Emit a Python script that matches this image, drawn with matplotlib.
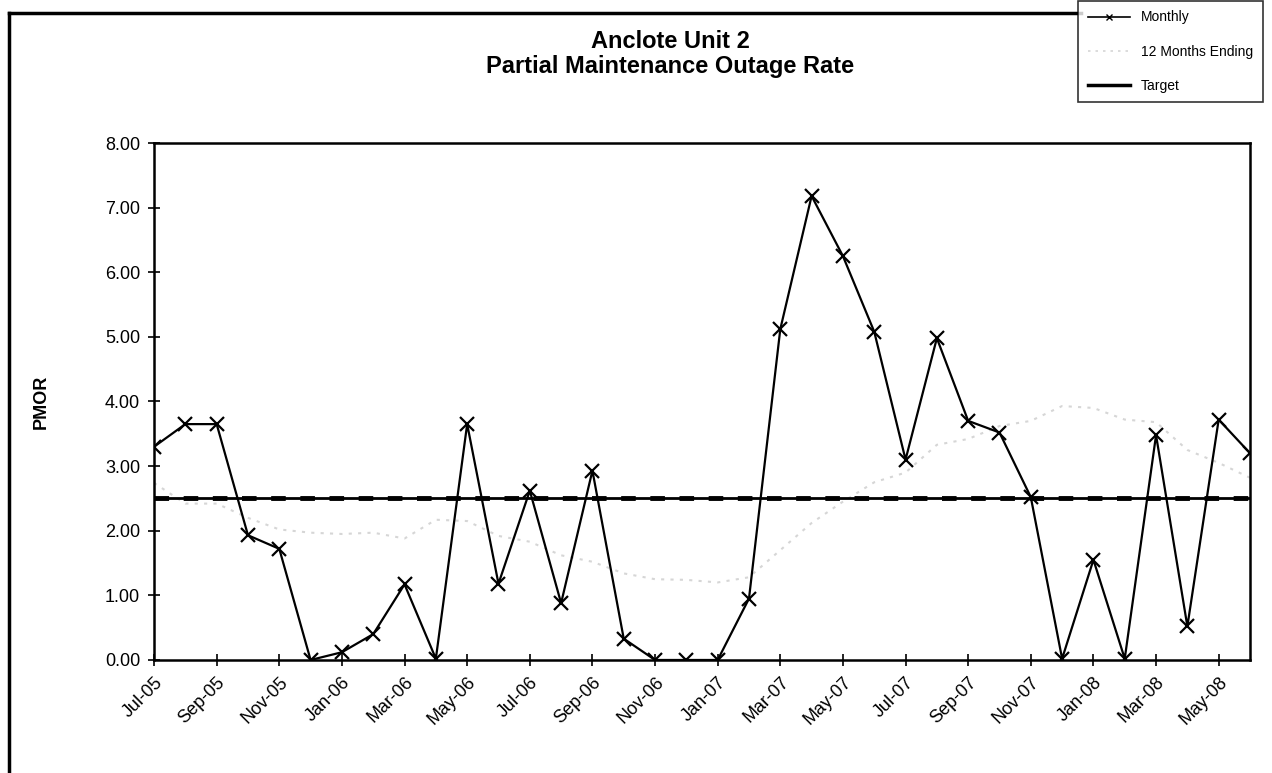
import matplotlib.pyplot as plt
from matplotlib.lines import Line2D

plt.rcParams['font.family'] = ['Liberation Sans', 'DejaVu Sans']

months = ['Jul-05', 'Aug-05', 'Sep-05', 'Oct-05', 'Nov-05', 'Dec-05',
          'Jan-06', 'Feb-06', 'Mar-06', 'Apr-06', 'May-06', 'Jun-06',
          'Jul-06', 'Aug-06', 'Sep-06', 'Oct-06', 'Nov-06', 'Dec-06',
          'Jan-07', 'Feb-07', 'Mar-07', 'Apr-07', 'May-07', 'Jun-07',
          'Jul-07', 'Aug-07', 'Sep-07', 'Oct-07', 'Nov-07', 'Dec-07',
          'Jan-08', 'Feb-08', 'Mar-08', 'Apr-08', 'May-08', 'Jun-08']

monthly = [3.30, 3.65, 3.65, 1.93, 1.72, 0.00,
           0.12, 0.40, 1.17, 0.02, 3.65, 1.18,
           2.62, 0.88, 2.93, 0.33, 0.00, 0.00,
           0.00, 0.95, 5.12, 7.18, 6.25, 5.08,
           3.10, 4.98, 3.70, 3.52, 2.52, 0.02,
           1.55, 0.02, 3.48, 0.52, 3.72, 3.20]

twelve_month = [2.74, 2.42, 2.42, 2.20, 2.02, 1.97,
                1.95, 1.97, 1.88, 2.17, 2.15, 1.92,
                1.83, 1.62, 1.52, 1.34, 1.25, 1.24,
                1.20, 1.28, 1.70, 2.12, 2.45, 2.75,
                2.90, 3.33, 3.42, 3.62, 3.70, 3.93,
                3.90, 3.72, 3.68, 3.25, 3.05, 2.82]

target = 2.50

fig = plt.figure(figsize=(12.72, 7.73), dpi=100)
ax = fig.add_axes([0.1211, 0.1462, 0.8616, 0.6688])

x = list(range(len(months)))
ax.plot(x, twelve_month, color='#d6d6d6', lw=1.5, ls=(0, (1.5, 3)), zorder=2)
ax.plot(x, [target] * len(x), color='black', lw=2.0, zorder=3)
ax.plot(x, [target] * len(x), color='black', lw=3.5, ls=(0, (3, 3)), zorder=3)
ax.plot(x, monthly, color='black', lw=1.6, marker='x', ms=10, mew=1.6, zorder=4)

ax.set_xlim(0, len(months) - 1)
ax.set_ylim(0, 8)
ax.set_yticks([i for i in range(9)])
ax.set_yticklabels(['%.2f' % i for i in range(9)], fontsize=13)
ax.set_xticks(x[::2])
ax.set_xticklabels(months[::2], rotation=45, ha='right', rotation_mode='anchor', fontsize=13)
ax.tick_params(direction='inout', length=8, width=1.2, pad=6)
for s in ax.spines.values():
    s.set_linewidth(1.8)
ax.set_ylabel('PMOR', fontsize=13, fontweight='bold', labelpad=40)

fig.text(0.527, 0.93, 'Anclote Unit 2\nPartial Maintenance Outage Rate',
         ha='center', va='center', fontsize=17, fontweight='bold', linespacing=1.15)

# outer frame lines
fig.add_artist(Line2D([0.007, 0.007], [0.0, 0.983], color='black', lw=2.5))
fig.add_artist(Line2D([0.007, 0.85], [0.983, 0.983], color='black', lw=2.5))

handles = [
    Line2D([], [], color='black', lw=1.2, marker='x', ms=5),
    Line2D([], [], color='#d6d6d6', lw=1.2, ls=(0, (1.5, 3))),
    Line2D([], [], color='black', lw=2.5),
]
leg = fig.legend(handles, ['Monthly', '12 Months Ending', 'Target'],
                 loc='upper right', bbox_to_anchor=(0.998, 1.008), fontsize=10,
                 frameon=True, fancybox=False, edgecolor='black', handlelength=3,
                 labelspacing=1.45, borderpad=0.7)
leg.get_frame().set_linewidth(1.2)

fig.savefig('out.png', dpi=100)
